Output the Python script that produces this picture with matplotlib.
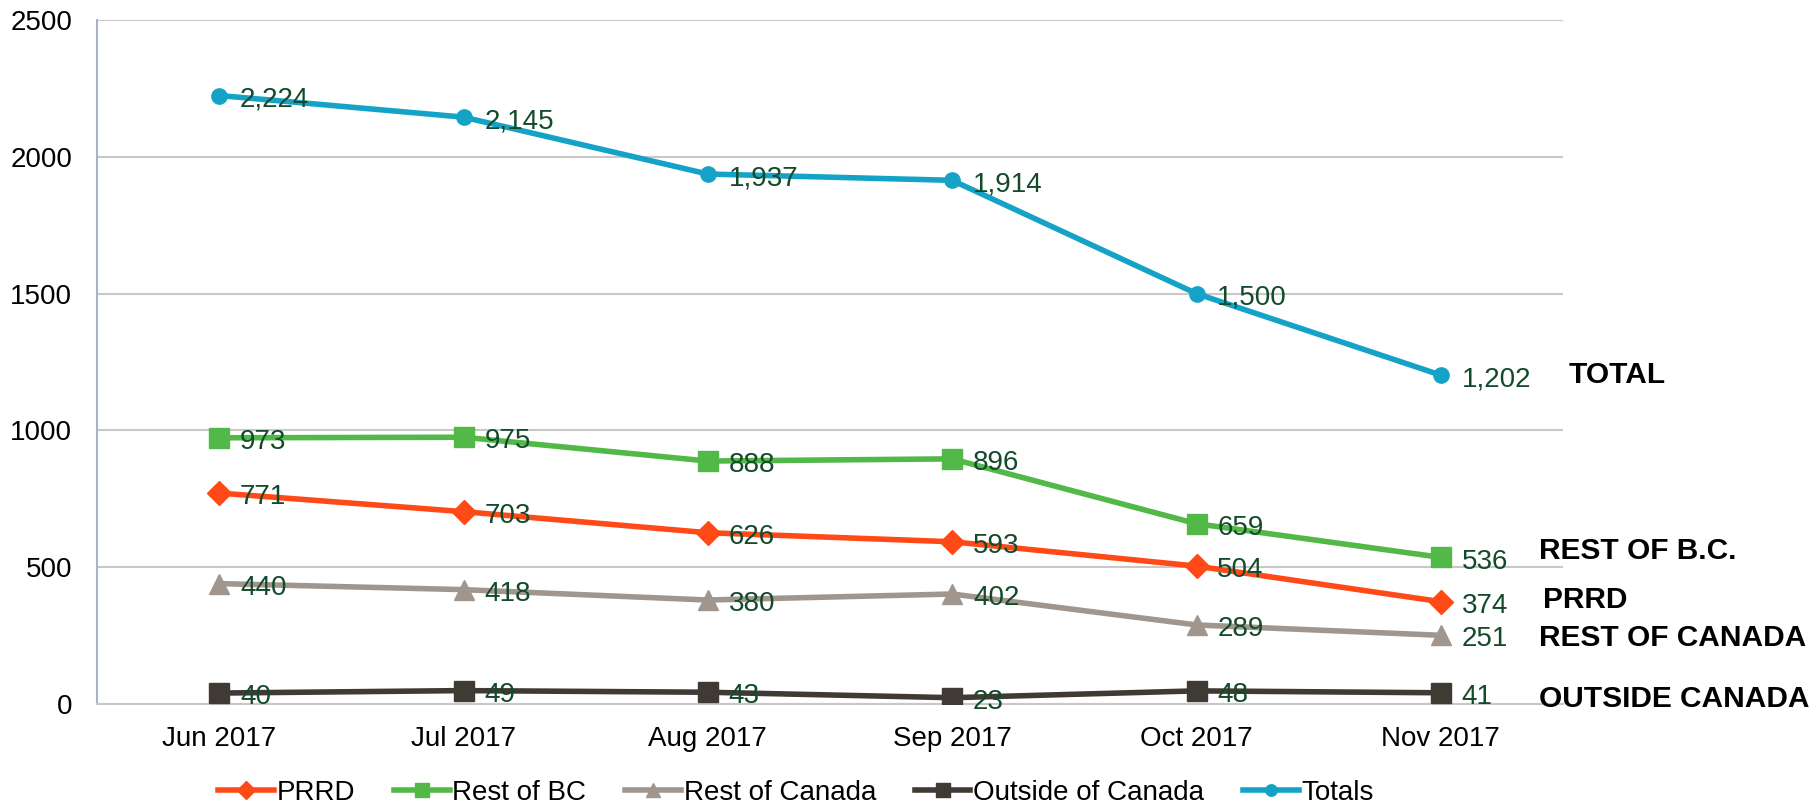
import matplotlib
matplotlib.use('Agg')
import matplotlib.pyplot as plt
from matplotlib.font_manager import FontProperties

months = ['Jun 2017', 'Jul 2017', 'Aug 2017', 'Sep 2017', 'Oct 2017', 'Nov 2017']
prrd = [771, 703, 626, 593, 504, 374]
rest_bc = [973, 975, 888, 896, 659, 536]
rest_canada = [440, 418, 380, 402, 289, 251]
outside = [40, 49, 43, 23, 48, 41]
totals = [2224, 2145, 1937, 1914, 1500, 1202]

series = [
    ('PRRD', prrd, '#FF4A17', 'D', 12),
    ('Rest of BC', rest_bc, '#52B848', 's', 14),
    ('Rest of Canada', rest_canada, '#A0968E', '^', 14),
    ('Outside of Canada', outside, '#403A35', 's', 14),
    ('Totals', totals, '#14A3C7', 'o', 11),
]
end_labels = [
    ('TOTAL', 1202, 5.525),
    ('REST OF B.C.', 560, 5.40),
    ('PRRD', 380, 5.42),
    ('REST OF CANADA', 240, 5.40),
    ('OUTSIDE CANADA', 20, 5.40),
]

plt.rcParams['font.family'] = ['Liberation Sans', 'DejaVu Sans']
fig = plt.figure(figsize=(18.15, 8.08), dpi=100)
ax = fig.add_axes([97/1815, 1-704/808, (1563-97)/1815, (704-20)/808])

x = list(range(len(months)))
for name, vals, col, mk, ms in series:
    ax.plot(x, vals, color=col, lw=4, marker=mk, ms=ms, mec=col, label=name,
            zorder=3)
    for xi, v in zip(x, vals):
        ax.annotate(f'{v:,}', (xi, v), xytext=(15, -3), textcoords='offset points',
                    ha='left', va='center', fontsize=20, color='#124A2A',
                    zorder=4)

for txt, yv, xv in end_labels:
    ax.text(xv, yv, txt, fontsize=21.5, fontweight='bold', color='black',
            ha='left', va='center', clip_on=False)

ax.set_xlim(-0.5, 5.5)
ax.set_ylim(0, 2500)
ax.set_yticks(range(0, 2501, 500))
ax.set_xticks(x)
ax.set_xticklabels(months)
ax.tick_params(axis='both', length=0, labelsize=20, colors='black')
ax.tick_params(axis='y', pad=18)
ax.tick_params(axis='x', pad=16)
ax.yaxis.grid(True, color='#C8C8C8', lw=1.5)
ax.set_axisbelow(True)
for s in ('top', 'right'):
    ax.spines[s].set_visible(False)
ax.spines['left'].set_color('#A8B4C4')
ax.spines['left'].set_linewidth(1.5)
ax.spines['bottom'].set_color('#C8C8C8')
ax.spines['bottom'].set_linewidth(1.5)

leg_font = FontProperties(family=['Liberation Sans Narrow', 'Liberation Sans'], size=20)
fig.legend(loc='center', bbox_to_anchor=(796/1815, 1-793/808), ncol=5,
           frameon=False, prop=leg_font, handlelength=2.0, handletextpad=0.1,
           columnspacing=1.4, markerscale=0.75)

fig.savefig('out.png', dpi=100)
